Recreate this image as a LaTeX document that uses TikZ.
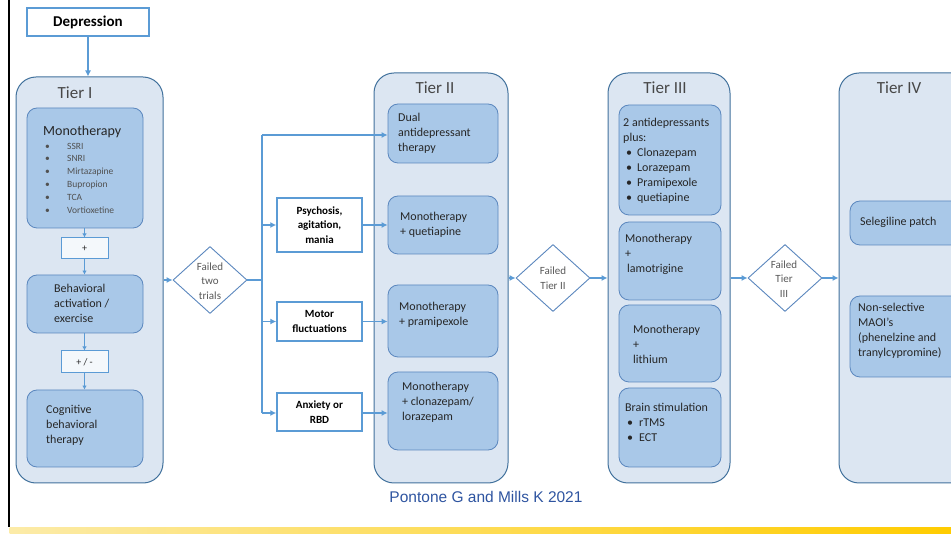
\documentclass[tikz,border=0pt]{standalone}
\usepackage{fontspec}
\setmainfont{Carlito}
\newfontfamily\citefont{Liberation Sans}
\usetikzlibrary{arrows.meta,fit,shapes.geometric}
\definecolor{contfill}{HTML}{DCE6F2}
\definecolor{contdraw}{HTML}{41719C}
\definecolor{boxfill}{HTML}{A9C8E8}
\definecolor{boxdraw}{HTML}{5B87BE}
\definecolor{linkcol}{HTML}{5B9BD5}
\definecolor{txtcol}{HTML}{262626}
\definecolor{graytxt}{HTML}{595959}
\definecolor{citecol}{HTML}{2E54A0}
\definecolor{barleft}{HTML}{FCEBA8}
\definecolor{barright}{HTML}{FFCC00}
\begin{document}
\begin{tikzpicture}[x=1pt,y=-1pt,
 tier/.style={draw=contdraw, fill=contfill, line width=1pt, rounded corners=20pt, inner sep=0pt},
 ibox/.style={draw=boxdraw, fill=boxfill, line width=0.8pt, rounded corners=10pt, inner sep=0pt},
 wbox/.style={draw=linkcol, fill=white, line width=1.8pt, inner sep=0pt},
 pbox/.style={draw=linkcol, fill=white, line width=1pt, inner sep=0pt},
 dia/.style={diamond, draw=boxdraw, fill=white, line width=0.9pt, inner sep=0pt, minimum width=74pt, minimum height=67pt},
 txt/.style={anchor=west, inner sep=0pt, text=txtcol, align=left, font=\fontsize{12}{15}\selectfont},
 btxt/.style={inner sep=0pt, text=black, align=center, font=\fontsize{11}{14.5}\selectfont\bfseries},
 dtxt/.style={inner sep=0pt, text=graytxt, align=center, font=\fontsize{11}{14.5}\selectfont},
 tiertxt/.style={inner sep=0pt, text=txtcol!85, font=\fontsize{17}{20}\selectfont},
 link/.style={draw=linkcol, line width=1.1pt, -{Latex[length=6pt,width=6pt]}},
 slink/.style={draw=linkcol, line width=0.8pt, -{Latex[length=4pt,width=4.5pt]}},
 plain/.style={draw=linkcol, line width=1.1pt}
]
\useasboundingbox (0,0) rectangle (951,534);
\clip (0,0) rectangle (951,534);

% frame decorations
\draw[line width=2pt] (8.5,0) -- (8.5,527);
\shade[left color=barleft, right color=barright] (9.5,527) rectangle (951,534);

% Depression
\node[wbox, fit={(27,8)(149,36)}] (dep) {};
\node[btxt, font=\fontsize{15}{18}\selectfont\bfseries] (deptxt) at (dep.center) {Depression};

% Tier containers
\node[tier, fit={(16,77)(163,483)}] (t1) {};
\node[tier, fit={(374,73)(508,483)}] (t2) {};
\node[tier, fit={(608,73)(730,483)}] (t3) {};
\node[tier, fit={(839,73)(985,483)}] (t4) {};
\node[tiertxt] (t1lab) at (75,93) {Tier I};
\node[tiertxt] (t2lab) at (435,88) {Tier II};
\node[tiertxt] (t3lab) at (665,88) {Tier III};
\node[tiertxt] (t4lab) at (899,88) {Tier IV};

% Tier I boxes
\node[ibox, fit={(27,108)(143,228)}] (mono1) {};
\node[txt, font=\fontsize{14}{17}\selectfont] (mono1a) at (43,132) {Monotherapy};
\node[txt, text=txtcol!80, font=\fontsize{9.5}{12.8}\selectfont] (mono1b) at (45,178) {%
\makebox[22pt][l]{\textbullet}SSRI\\
\makebox[22pt][l]{\textbullet}SNRI\\
\makebox[22pt][l]{\textbullet}Mirtazapine\\
\makebox[22pt][l]{\textbullet}Bupropion\\
\makebox[22pt][l]{\textbullet}TCA\\
\makebox[22pt][l]{\textbullet}Vortioxetine};
\node[pbox, fill=white!70!contfill, fit={(61,238)(108,259)}] (plus1) {};
\node[dtxt, text=txtcol, font=\fontsize{10}{12}\selectfont] (plus1t) at (plus1.center) {+};
\node[ibox, fit={(27,275)(143,333)}] (behav) {};
\node[txt] (behavt) at (54,303) {Behavioral\\activation /\\exercise};
\node[pbox, fill=white!70!contfill, fit={(61,351)(108,373)}] (plus2) {};
\node[dtxt, text=txtcol, font=\fontsize{10}{12}\selectfont] (plus2t) at (plus2.center) {+ / -};
\node[ibox, fit={(27,390)(143,467)}] (cbt) {};
\node[txt] (cbtt) at (46,425) {Cognitive\\behavioral\\therapy};

% Failed two trials
\node[dia] (d1) at (210,280) {};
\node[dtxt] (d1t) at (210,281) {Failed\\two\\trials};

% Condition boxes
\node[wbox, line width=1.5pt, fit={(277,198)(362,252)}] (psy) {};
\node[btxt] (psyt) at (psy.center) {Psychosis,\\agitation,\\mania};
\node[wbox, line width=1.5pt, fit={(277,302)(362,341)}] (mot) {};
\node[btxt] (mott) at (mot.center) {Motor\\fluctuations};
\node[wbox, line width=1.5pt, fit={(277,393)(362,431)}] (anx) {};
\node[btxt] (anxt) at (anx.center) {Anxiety or\\RBD};

% Tier II boxes
\node[ibox, fit={(388,104)(498,163)}] (dual) {};
\node[txt] (dualt) at (398,133) {Dual\\antidepressant\\therapy};
\node[ibox, fit={(388,196)(498,254)}] (quet) {};
\node[txt] (quett) at (400,224.5) {Monotherapy\\+ quetiapine};
\node[ibox, fit={(388,285)(498,357)}] (prami) {};
\node[txt] (pramit) at (399,314.5) {Monotherapy\\+ pramipexole};
\node[ibox, fit={(388,372)(498,450)}] (clon) {};
\node[txt] (clont) at (402,402) {Monotherapy\\+ clonazepam/\\lorazepam};

% Failed Tier II
\node[dia] (d2) at (553,278) {};
\node[dtxt] (d2t) at (553,278) {Failed\\Tier II};

% Tier III boxes
\node[ibox, fit={(619,105)(721,215)}] (anti2) {};
\node[txt] (anti2t) at (623,160.5) {2 antidepressants\\plus:\\
\hspace*{3pt}\makebox[11pt][l]{\textbullet}Clonazepam\\
\hspace*{3pt}\makebox[11pt][l]{\textbullet}Lorazepam\\
\hspace*{3pt}\makebox[11pt][l]{\textbullet}Pramipexole\\
\hspace*{3pt}\makebox[11pt][l]{\textbullet}quetiapine};
\node[ibox, fit={(619,222)(721,300)}] (lamo) {};
\node[txt] (lamot) at (625,254) {Monotherapy\\+\\\hspace*{2pt}lamotrigine};
\node[ibox, fit={(619,305)(721,382)}] (lith) {};
\node[txt] (litht) at (633,344) {Monotherapy\\+\\lithium};
\node[ibox, fit={(619,388)(721,467)}] (brain) {};
\node[txt] (braint) at (625,422) {Brain stimulation\\
\hspace*{2pt}\makebox[12pt][l]{\textbullet}rTMS\\
\hspace*{2pt}\makebox[12pt][l]{\textbullet}ECT};

% Failed Tier III
\node[dia] (d3) at (785,278) {};
\node[dtxt] (d3t) at (784,279) {Failed\\Tier\\III};

% Tier IV boxes
\node[ibox, fit={(850,201)(965,245)}] (sele) {};
\node[txt] (selet) at (860,222) {Selegiline patch};
\node[ibox, fit={(850,296)(965,377)}] (maoi) {};
\node[txt] (maoit) at (858,331) {Non-selective\\MAOI’s\\(phenelzine and\\tranylcypromine)};

% connectors
\draw[link] (dep.south) -- (dep.south |- t1.north);
\draw[slink] (mono1.south -| plus1.north) -- (plus1.north);
\draw[slink] (plus1.south) -- (plus1.south |- behav.north);
\draw[slink] (behav.south -| plus2.north) -- (plus2.north);
\draw[slink] (plus2.south) -- (plus2.south |- cbt.north);
\draw[link] (t1.east |- d1.west) -- (d1.west);
\coordinate (split) at (262,280);
\coordinate (splittop) at (262,135);
\coordinate (splitbot) at (262,413);
\draw[plain] (d1.east) -- (split);
\draw[plain] (splittop) -- (splitbot);
\draw[link] (splittop) -- (splittop -| dual.west);
\draw[link] (splittop |- psy.west) -- (psy.west);
\draw[link] (splittop |- mot.west) -- (mot.west);
\draw[link] (splitbot) -- (splitbot -| anx.west);
\draw[link] (psy.east) -- (psy.east -| quet.west);
\draw[link] (mot.east) -- (mot.east -| prami.west);
\draw[link] (anx.east |- splitbot) -- (splitbot -| clon.west);
\draw[link] (t2.east |- d2.west) -- (d2.west);
\draw[link] (d2.east) -- (d2.east -| t3.west);
\draw[link] (t3.east |- d3.west) -- (d3.west);
\draw[link] (d3.east) -- (d3.east -| t4.west);

% citation
\node[inner sep=0pt, text=citecol, font=\citefont\fontsize{15.5}{18}\selectfont] (cite) at (486,497) {Pontone G and Mills K 2021};
\end{tikzpicture}
\end{document}
